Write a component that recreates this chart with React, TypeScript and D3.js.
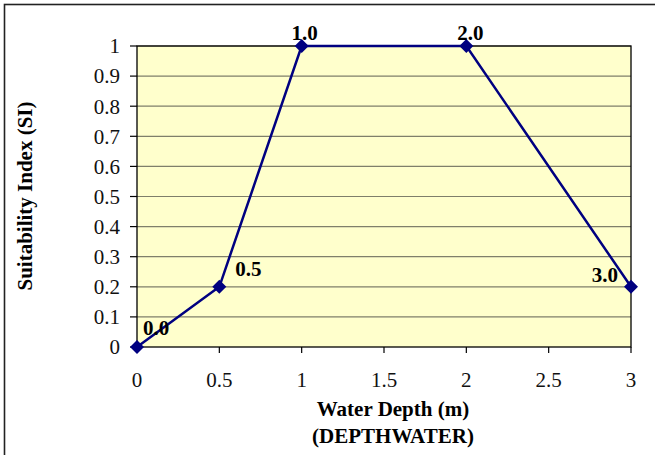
import React from "react";
import * as d3 from "d3";

const depths = [0, 0.5, 1.0, 2.0, 3.0];
const siValues = [0, 0.2, 1, 1, 0.2];
const pointLabels = ["0.0", "0.5", "1.0", "2.0", "3.0"];
const xTicks = [0, 0.5, 1, 1.5, 2, 2.5, 3];
const yTicks = [0, 0.1, 0.2, 0.3, 0.4, 0.5, 0.6, 0.7, 0.8, 0.9, 1];

const W = 655;
const H = 455;
const left = 137;
const right = 631;
const top = 46;
const bottom = 347;

export default function App() {
  const x = d3.scaleLinear().domain([0, 3]).range([left, right]);
  const y = d3.scaleLinear().domain([0, 1]).range([bottom, top]);
  const line = d3
    .line<number>()
    .x((_, i) => x(depths[i]))
    .y((d) => y(d));
  const serif = "'Liberation Serif', 'Times New Roman', serif";
  const labelOffsets: [number, number, string][] = [
    [6, -12, "start"],
    [16, -11, "start"],
    [3, -6, "middle"],
    [4, -6, "middle"],
    [-13, -5, "end"],
  ];
  return (
    <svg
      width={W}
      height={H}
      style={{ position: "absolute", left: 0, top: 0, display: "block" }}
      fontFamily={serif}
    >
      <rect x={0} y={0} width={W} height={H} fill="#fff" />
      <rect x={4.5} y={4.5} width={W + 10} height={H + 10} fill="none" stroke="#222" strokeWidth={1.6} />
      <rect x={left} y={top} width={right - left} height={bottom - top} fill="#FFFFCC" />
      {yTicks.slice(1).map((t) => (
        <line key={"g" + t} x1={left} x2={right} y1={y(t)} y2={y(t)} stroke="#7f7f6a" strokeWidth={1.2} />
      ))}
      <rect x={left} y={top} width={right - left} height={bottom - top} fill="none" stroke="#000" strokeWidth={1.3} />
      {yTicks.map((t) => (
        <g key={"y" + t}>
          <line x1={left - 7} x2={left} y1={y(t)} y2={y(t)} stroke="#000" strokeWidth={1.2} />
          <text x={120} y={y(t)} dy="0.35em" textAnchor="end" fontSize={21} fill="#111">
            {String(t)}
          </text>
        </g>
      ))}
      {xTicks.map((t) => (
        <g key={"x" + t}>
          <line x1={x(t)} x2={x(t)} y1={bottom} y2={bottom + 6} stroke="#000" strokeWidth={1.2} />
          <text x={x(t)} y={387} textAnchor="middle" fontSize={21} fill="#111">
            {String(t)}
          </text>
        </g>
      ))}
      <path d={line(siValues) || ""} fill="none" stroke="#000080" strokeWidth={2.5} />
      {siValues.map((v, i) => {
        const cx = x(depths[i]);
        const cy = y(v);
        const s = 7;
        return (
          <path
            key={"m" + i}
            d={`M${cx},${cy - s}L${cx + s},${cy}L${cx},${cy + s}L${cx - s},${cy}Z`}
            fill="#000080"
          />
        );
      })}
      {siValues.map((v, i) => {
        const [dx, dy, anchor] = labelOffsets[i];
        return (
          <text
            key={"l" + i}
            x={x(depths[i]) + dx}
            y={y(v) + dy}
            textAnchor={anchor as any}
            fontSize={21}
            fontWeight="bold"
            fill="#000"
          >
            {pointLabels[i]}
          </text>
        );
      })}
      <text x={393} y={416} textAnchor="middle" fontSize={21} fontWeight="bold" fill="#000">
        Water Depth (m)
      </text>
      <text x={393} y={443} textAnchor="middle" fontSize={21} fontWeight="bold" fill="#000">
        (DEPTHWATER)
      </text>
      <text
        transform="translate(32,196) rotate(-90)"
        textAnchor="middle"
        fontSize={21}
        fontWeight="bold"
        fill="#000"
      >
        Suitability Index (SI)
      </text>
    </svg>
  );
}
